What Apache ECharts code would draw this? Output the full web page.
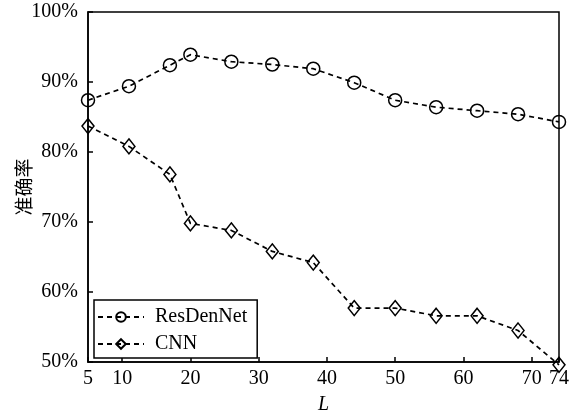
<!DOCTYPE html>
<html><head><meta charset="utf-8">
<script src="https://cdn.jsdelivr.net/npm/echarts@6/dist/echarts.min.js"></script>
<style>html,body{margin:0;padding:0;background:#fff}#c{width:577px;height:412px}</style>
</head><body><div id="c"></div>
<script>
const L = [5, 11, 17, 20, 26, 32, 38, 44, 50, 56, 62, 68, 74];
const resDenNet = [87.4, 89.4, 92.4, 93.9, 92.9, 92.5, 91.9, 89.9, 87.4, 86.4, 85.9, 85.4, 84.3];
const cnn = [83.7, 80.8, 76.8, 69.8, 68.8, 65.8, 64.2, 57.7, 57.7, 56.6, 56.6, 54.5, 49.6];
const xTicks = [5, 10, 20, 30, 40, 50, 60, 70, 74];
const seriesNames = ['ResDenNet', 'CNN'];

const chart = echarts.init(document.getElementById('c'), null, {renderer: 'canvas'});
const serif = 'Liberation Serif, Times New Roman, serif';
const lineStyle = {color: '#000', width: 1.7, type: [5, 4]};
function mk(name, vals, symbol, size) {
  return {
    name: name, type: 'line', data: L.map((x, i) => [x, vals[i]]),
    symbol: symbol, symbolSize: size, showSymbol: true,
    lineStyle: lineStyle,
    itemStyle: {color: 'rgba(255,255,255,0)', borderColor: '#000', borderWidth: 1.5},
    emphasis: {disabled: true}, z: 3, clip: false
  };
}
chart.setOption({
  animation: false,
  backgroundColor: '#fff',
  grid: {left: 88, right: 18, top: 12, bottom: 50, show: true, borderColor: '#000', borderWidth: 1.5,
         backgroundColor: 'transparent', containLabel: false, outerBoundsMode: 'none'},
  legend: {
    left: 94, top: 300, orient: 'vertical', itemWidth: 46, itemHeight: 12, itemGap: 7,
    padding: [7, 10, 4, 3], borderColor: '#000', borderWidth: 1.5, backgroundColor: '#fff',
    textStyle: {fontFamily: serif, fontSize: 20, color: '#000', padding: [0, 0, 0, 6]},
    data: seriesNames.map(n => ({name: n}))
  },
  xAxis: {
    type: 'value', min: 5, max: 74,
    name: 'L', nameLocation: 'middle', nameGap: 33, nameMoveOverlap: false,
    nameTextStyle: {fontFamily: serif, fontSize: 20, fontStyle: 'italic', color: '#000'},
    axisLine: {lineStyle: {color: '#000', width: 1.5}},
    axisTick: {inside: true, length: 5, customValues: xTicks, lineStyle: {color: '#000', width: 1.5}},
    axisLabel: {customValues: xTicks, fontFamily: serif, fontSize: 20, color: '#000', margin: 7},
    splitLine: {show: false}
  },
  yAxis: {
    type: 'value', min: 50, max: 100, interval: 10,
    name: '准确率', nameLocation: 'middle', nameGap: 55, nameRotate: 90, nameMoveOverlap: false,
    nameTextStyle: {fontFamily: 'Noto Sans CJK SC', fontSize: 19, fontWeight: 'normal', color: '#000'},
    axisLine: {lineStyle: {color: '#000', width: 1.5}},
    axisTick: {inside: true, length: 5, lineStyle: {color: '#000', width: 1.5}},
    axisLabel: {formatter: '{value}%', fontFamily: serif, fontSize: 20, color: '#000', margin: 10},
    splitLine: {show: false}
  },
  series: [
    mk(seriesNames[0], resDenNet, 'circle', 13),
    mk(seriesNames[1], cnn, 'diamond', [12, 15])
  ]
});
</script></body></html>
